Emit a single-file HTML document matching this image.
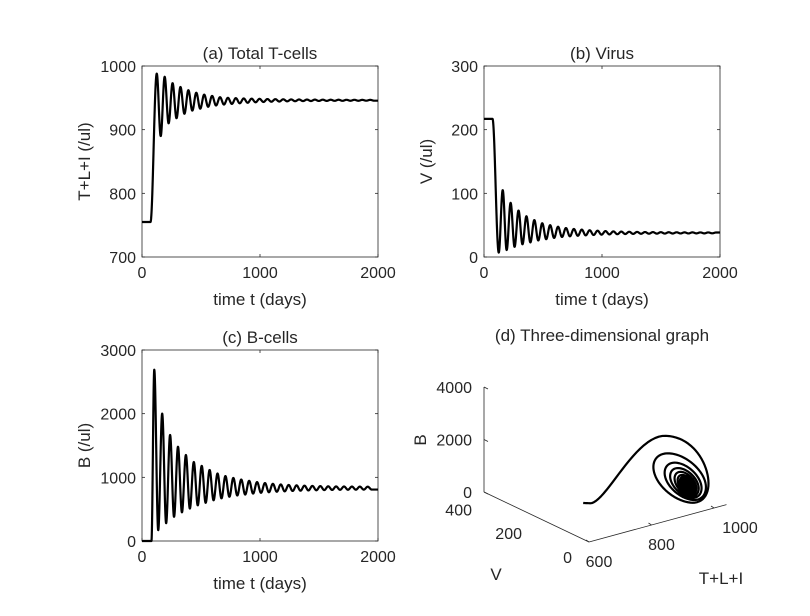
<!DOCTYPE html>
<html><head><meta charset="utf-8">
<style>
body{margin:0;background:#fff;}
svg{display:block;font-family:"Liberation Sans",Arial,sans-serif;}
</style></head>
<body>
<svg id="fig" width="810" height="616" viewBox="0 0 810 616" xmlns="http://www.w3.org/2000/svg"></svg>
<script>
// ---- data ----
const tPeriod = 67;
const tEnd = 2000;
const T_init = 755, T_start = 72, T_first = 125;
const T_peaks = [988,983,973,967,962,958,955,953,951,950,949.5,949,948.7,948.4,948.1,947.9,947.7,947.5,947.4,947.3,947.2,947.1,947,947,946.9,946.9,946.8,946.8];
const T_troughs = [890,910,918,925,930,933,936,938,939.5,940.5,941.5,942.3,943,943.5,943.9,944.2,944.5,944.7,944.9,945,945.1,945.2,945.3,945.3,945.4,945.4,945.5,945.5];
const V_init = 217, V_start = 72, V_first = 125;
const V_troughs = [7,11,16,20,23,26,28,30,31.5,32.5,33.3,34,34.6,35.1,35.5,35.8,36.1,36.3,36.5,36.6,36.7,36.8,36.9,37,37,37.1,37.1,37.2];
const V_peaks = [105,85,73,64,58,53,50,47.5,45.5,44,43,42,41.3,40.7,40.2,39.9,39.6,39.4,39.2,39.1,39,38.9,38.8,38.7,38.7,38.6,38.6,38.5];
const B_init = 0, B_start = 80, B_first = 104;
const B_peaks = [2690,2000,1665,1480,1350,1240,1180,1115,1060,1020,990,965,945,925,910,898,888,880,874,869,865,862,859,857,856,855,854,853];
const B_troughs = [170,280,380,450,510,560,600,640,670,695,715,730,745,757,766,774,780,786,790,794,797,800,802,804,805,806,807,808];
const xTicks = [0,1000,2000];
const aTicks = [700,800,900,1000];
const bTicks = [0,100,200,300];
const cTicks = [0,1000,2000,3000];
const dBTicks = [0,2000,4000];
const dVTicks = [0,200,400];
const dTTicks = [600,800,1000];

const NS="http://www.w3.org/2000/svg";
const svg=document.getElementById('fig');
function mk(tag,attrs,parent){const e=document.createElementNS(NS,tag);for(const k in attrs)e.setAttribute(k,attrs[k]);(parent||svg).appendChild(e);return e;}
function txt(s,x,y,size,anchor,parent,rot){const e=mk('text',{x:x,y:y,'font-size':size,'text-anchor':anchor||'middle',fill:'#262626'},parent);if(rot)e.setAttribute('transform','rotate(-90 '+x+' '+y+')');e.textContent=s;return e;}

function knots(init,start,first,firstArr,secondArr){
  const k=[[0,init],[start,init]];
  for(let i=0;i<firstArr.length;i++){
    const t1=first+i*tPeriod; if(t1<=tEnd) k.push([t1,firstArr[i]]);
    const t2=t1+tPeriod/2; if(t2<=tEnd) k.push([t2,secondArr[i]]);
  }
  return k;
}
function sample(k,t){
  if(t<=k[0][0])return k[0][1];
  for(let i=0;i<k.length-1;i++){
    if(t<=k[i+1][0]){const a=k[i],b=k[i+1];const f=(t-a[0])/(b[0]-a[0]);const c=(1-Math.cos(Math.PI*f))/2;return a[1]+(b[1]-a[1])*c;}
  }
  return k[k.length-1][1];
}
const kT=knots(T_init,T_start,T_first,T_peaks,T_troughs);
const kV=knots(V_init,V_start,V_first,V_troughs,V_peaks);
const kB=knots(B_init,B_start,B_first,B_peaks,B_troughs);
const ts=[];for(let t=0;t<=tEnd;t+=1)ts.push(t);

function panel(id,x0,y0,w,h,ymin,ymax,yTicks,k,title,ylabel){
  const g=mk('g',{});
  
  
  const sx=t=>x0+t/tEnd*w, sy=v=>y0+h-(v-ymin)/(ymax-ymin)*h;
  mk('rect',{x:x0,y:y0,width:w,height:h,fill:'#fff',stroke:'#262626','stroke-width':0.8},g);
  xTicks.forEach(t=>{const x=sx(t);
    mk('line',{x1:x,y1:y0+h,x2:x,y2:y0+h-3,stroke:'#262626','stroke-width':0.8},g);
    mk('line',{x1:x,y1:y0,x2:x,y2:y0+3,stroke:'#262626','stroke-width':0.8},g);
    const l=txt(String(t),x,y0+h+21,16,'middle',g);});
  yTicks.forEach(v=>{const y=sy(v);
    mk('line',{x1:x0,y1:y,x2:x0+3,y2:y,stroke:'#262626','stroke-width':0.8},g);
    mk('line',{x1:x0+w,y1:y,x2:x0+w-3,y2:y,stroke:'#262626','stroke-width':0.8},g);
    const l=txt(String(v),x0-6,y+6,16,'end',g);});
  let d='';ts.forEach((t,i)=>{d+=(i?'L':'M')+sx(t).toFixed(2)+' '+sy(sample(k,t)).toFixed(2);});
  const p=mk('path',{d:d,fill:'none',stroke:'#000','stroke-width':2.2,'stroke-linejoin':'round'},g);
  
  const tt=txt(title,x0+w/2,y0-7,17,'middle',g);
  const xl=txt('time t (days)',x0+w/2,y0+h+48,17,'middle',g);
  const yl=txt(ylabel,x0-52,y0+h/2,17,'middle',g,true);
}
panel('panel-a-total-t-cells',142,66,236,191,700,1000,aTicks,kT,'(a) Total T-cells','T+L+I (/ul)');
panel('panel-b-virus',484,66,236,191,0,300,bTicks,kV,'(b) Virus','V (/ul)');
panel('panel-c-b-cells',142,350,236,191,0,3000,cTicks,kB,'(c) B-cells','B (/ul)');

// 3D panel
const g3=mk('g',{});


const O=[589,542], Tvec=[125,-34], Vvec=[-105,-50], Bpx=105/4000;
function P(T,V,B){const a=(T-600)/400,b=V/420;return [O[0]+Tvec[0]*a+Vvec[0]*b,O[1]+Tvec[1]*a+Vvec[1]*b-B*Bpx];}
const back=P(600,420,0);
mk('line',{x1:O[0],y1:O[1],x2:O[0]+Tvec[0]*1.1,y2:O[1]+Tvec[1]*1.1,stroke:'#262626','stroke-width':0.8},g3);
mk('line',{x1:O[0],y1:O[1],x2:back[0],y2:back[1],stroke:'#262626','stroke-width':0.8},g3);
mk('line',{x1:back[0],y1:back[1],x2:back[0],y2:back[1]-4000*Bpx,stroke:'#262626','stroke-width':0.8},g3);
dBTicks.forEach(b=>{const y=back[1]-b*Bpx;mk('line',{x1:back[0],y1:y,x2:back[0]+4,y2:y+2,stroke:'#262626','stroke-width':0.8},g3);
  const l=txt(String(b),back[0]-12,y+6,16,'end',g3);});
dVTicks.forEach(v=>{const p=P(600,v,0);const l=txt(String(v),p[0]-17,p[1]+21,16,'end',g3);});
dTTicks.forEach(t=>{const p=P(t,0,0);mk('line',{x1:p[0],y1:p[1],x2:p[0]-3,y2:p[1]-2,stroke:'#262626','stroke-width':0.8},g3);
  const l=txt(String(t),p[0]+(t===1000?16:0)+10,p[1]+25,16,'middle',g3);});
let d3='';ts.forEach((t,i)=>{const p=P(sample(kT,t),sample(kV,t),sample(kB,t));d3+=(i?'L':'M')+p[0].toFixed(2)+' '+p[1].toFixed(2);});
const p3=mk('path',{d:d3,fill:'none',stroke:'#000','stroke-width':2.2,'stroke-linejoin':'round'},g3);


let e;
e=txt('(d) Three-dimensional graph',602,341,17,'middle',g3);
e=txt('B',426,440,17,'middle',g3,true);
e=txt('V',496,580,17,'middle',g3);
e=txt('T+L+I',721,584,17,'middle',g3);
</script>
</body></html>
